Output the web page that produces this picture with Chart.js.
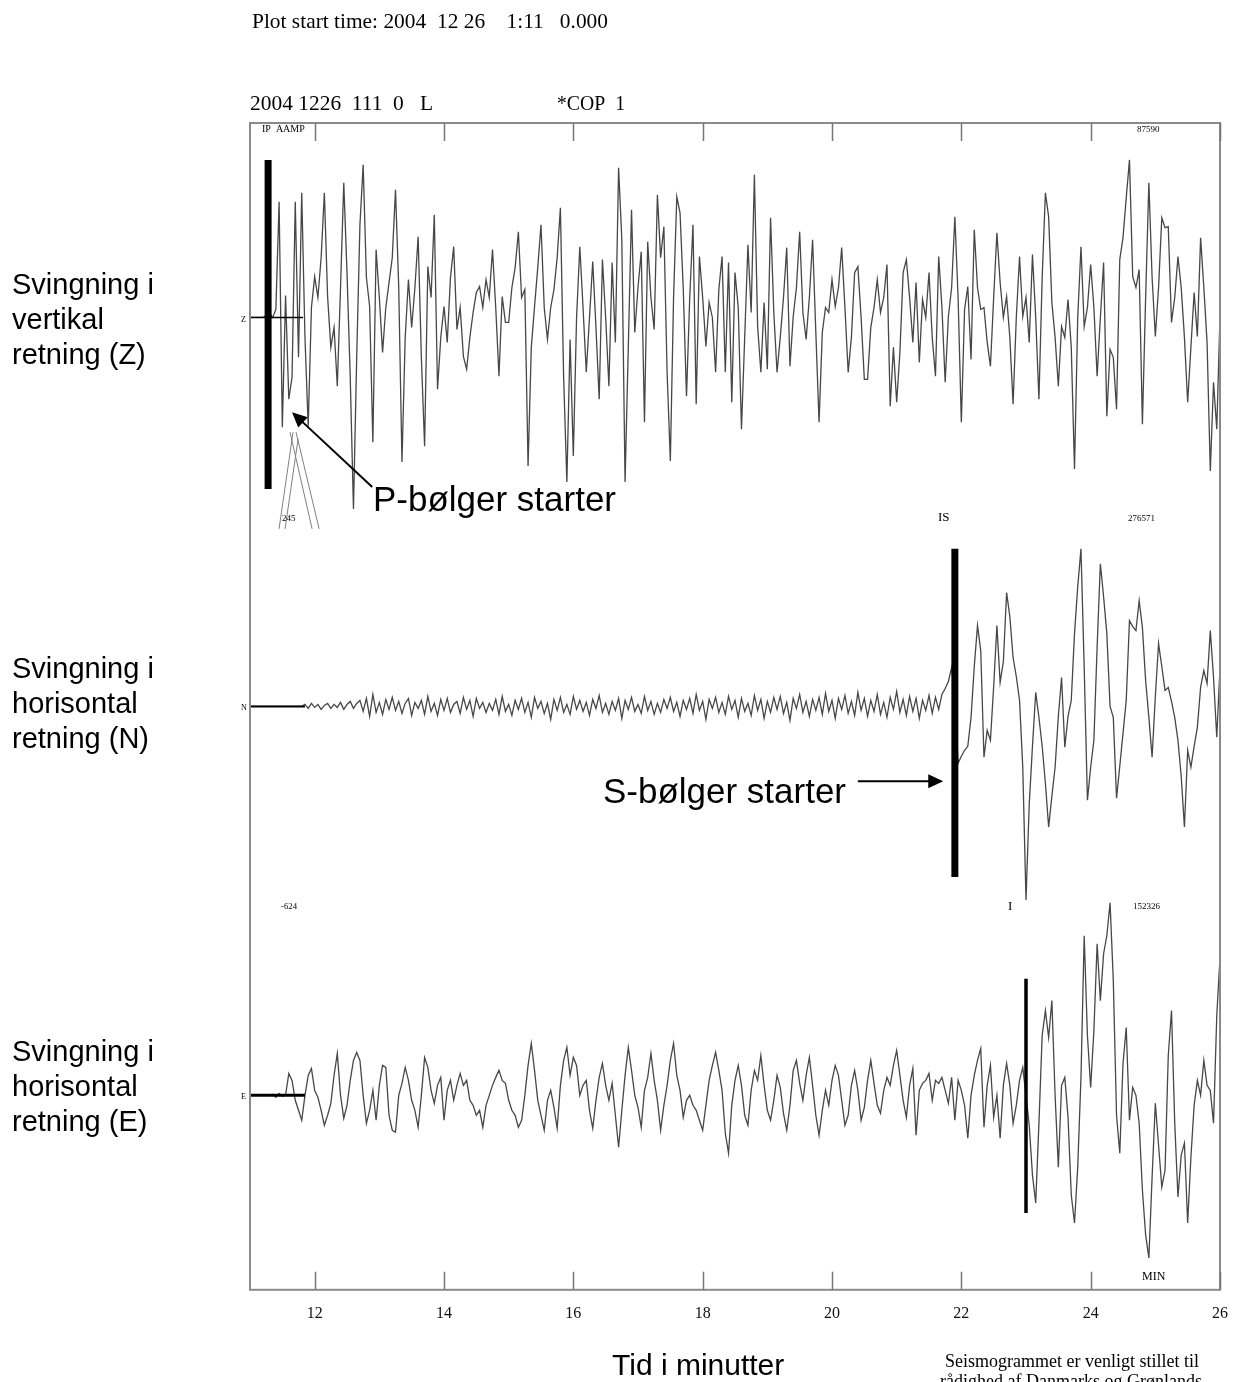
<!DOCTYPE html>
<html>
<head>
<meta charset="utf-8">
<title>Seismogram 2004-12-26</title>
<script src="https://cdn.jsdelivr.net/npm/chart.js@4.4.1/dist/chart.umd.min.js"></script>
<style>
  html, body { margin: 0; padding: 0; background: #fff; }
  canvas { display: block; }
</style>
</head>
<body>
<canvas id="seismo" width="1234" height="1382"></canvas>
<script>
// sample times in minutes after 1:00, one sample every 0.05 min
const sampleStart = 11.0;
const sampleStep = 0.05;
const tickMinutes = [12, 14, 16, 18, 20, 22, 24, 26];

// vertical component (Z)
const zAmp = [
  0, 0, 0, 0, 0, 2, 4, 0, 8, 116,
  -110, 22, -82, -60, 116, -40, 125, -20, -109, 10,
  41, 20, 60, 125, 21, -30, -10, -69, 30, 135,
  45, -60, -192, -40, 93, 153, 40, 11, -125, 68,
  20, -35, 10, 35, 60, 128, 30, -145, -20, 38,
  -10, 30, 81, -40, -129, 51, 20, 103, -72, -20,
  11, -25, 40, 71, -12, 10, -39, -52, -20, 5,
  25, 31, 10, 38, 20, 68, 10, -59, 21, -5,
  -5, 30, 50, 86, 20, 28, -149, -30, 11, 50,
  93, 10, -22, 10, 28, 60, 110, -60, -165, -22,
  -139, 0, 71, 10, -55, 0, 56, -10, -82, 58,
  0, -69, 55, -25, 150, 78, -165, -30, 108, -15,
  30, 66, -105, 76, 20, -12, 123, 60, 91, -55,
  -144, 20, 121, 105, 28, -79, 20, 93, -87, 61,
  20, -29, 15, 0, -55, 28, 61, -55, 55, -85,
  45, 10, -112, -20, 73, 5, 143, -9, -55, 15,
  -52, 100, 5, -55, -20, 20, 70, -49, 1, 30,
  86, 5, -22, 20, 78, -15, -105, -15, 10, 5,
  38, 11, 30, 70, 10, -55, -20, 45, 51, 0,
  -62, -62, -10, 10, 38, 5, 20, 53, -89, -30,
  -85, -35, 45, 58, 20, -25, 35, -45, 18, 0,
  45, -20, -59, 61, 10, -65, 1, 30, 101, 20,
  -105, 8, 31, -42, 88, 30, 8, 10, -25, -49,
  20, 85, 35, 0, 21, -20, -87, 0, 61, 1,
  20, -25, 63, 0, -82, 40, 125, 101, 15, -20,
  -69, -9, -20, 18, -30, -152, 0, 71, -9, 10,
  53, 10, -59, 0, 55, -99, -32, -40, -92, 58,
  80, 120, 158, 41, 30, 48, -107, 20, 135, 40,
  -19, 30, 100, 90, 91, -5, 20, 61, 30, -20,
  -85, -30, 25, -19, 80, 30, -25, -154, -65, -112,
  1
];

// horizontal component (N)
const nAmp = [
  0, 0, 0, 0, 0, 0, 0, 0, 0, 0,
  0, 0, 0, 0, 0, 0, 0, 2, -2, 3,
  -1, 2, -3, 1, 3, -2, 2, -1, 4, -3,
  2, 5, -2, 3, 6, -5, 8, -10, 12, -6,
  4, -8, 7, -3, 9, -4, 5, -7, 3, 8,
  -9, 4, -2, 6, -8, 10, -5, 3, -9, 7,
  -4, 8, -6, 2, 5, -7, 9, -3, 6, -10,
  8, -2, 4, -6, 3, -4, 7, -8, 10, -5,
  2, -9, 6, -3, 8, -6, 4, -11, 9, -2,
  5, -7, 3, -13, 7, -4, 9, -6, 2, -8,
  10, -3, 6, -5, 4, -9, 7, -2, 11, -6,
  3, -8, 5, -4, 8, -12, 6, -3, 9, -5,
  2, -7, 10, -4, 5, -8, 3, -6, 7, -2,
  9, -5, 4, -10, 6, -3, 8, -7, 12, -4,
  5, -13, 7, -2, 9, -6, 4, -8, 10, -3,
  6, -11, 8, -5, 3, -9, 11, -4, 7, -12,
  5, -6, 9, -3, 10, -7, 4, -14, 8, -2,
  12, -6, 5, -10, 7, -4, 9, -8, 13, -5,
  6, -12, 8, -3, 11, -7, 5, -9, 14, -4,
  8, -10, 6, -5, 12, -8, 4, -11, 9, -3,
  15, -6, 7, -9, 10, -5, 8, -12, 6, -4,
  11, -7, 9, -3, 12, 18, 25, 39, 10, -57,
  -50, -44, -40, -11, 40, 81, 56, -51, -24, -34,
  20, 81, 24, 45, 114, 90, 49, 30, 6, -61,
  -194, -98, -40, 14, -11, -40, -77, -121, -90, -61,
  -10, 29, -41, -10, 6, 73, 120, 158, 39, -94,
  -61, -34, 60, 143, 110, 73, 0, -11, -92, -60,
  -27, 6, 86, 80, 76, 106, 79, 26, -11, -51,
  10, 63, 40, 16, 19, 5, -11, -34, -70, -121,
  -44, -61, -40, -21, 19, 36, 23, 76, 29, -31,
  39
];

// horizontal component (E)
const eAmp = [
  0, 0, 0, 0, 0, 0, 0, 1, -2, 2,
  -1, 0, 22, 15, -5, -15, -25, 0, 20, 27,
  5, -2, -15, -30, -20, -8, 20, 42, 0, -23,
  -10, 15, 35, 43, 35, 0, -28, -15, 5, -25,
  10, 30, 28, -20, -35, -37, 0, 12, 28, 15,
  -5, -15, -32, 0, 38, 28, 5, -8, 10, 18,
  -25, 5, 15, -5, 10, 22, 10, 15, -5, -10,
  -20, -15, -32, -10, 0, 10, 18, 25, 15, 12,
  -5, -15, -20, -32, -25, 0, 30, 52, 25, -5,
  -20, -35, -5, 5, -12, -33, 10, 35, 48, 20,
  38, 30, 0, 10, 15, -15, -33, -5, 18, 32,
  10, -5, 12, -20, -52, -15, 20, 48, 25, 0,
  -12, -32, 5, 18, 42, 15, -5, -35, -10, 10,
  35, 52, 20, 5, -22, -5, 0, -10, -15, -25,
  -35, -10, 15, 30, 43, 25, 5, -38, -58, -10,
  15, 30, 10, -20, -30, 5, 25, 15, 40, 10,
  -15, -25, -5, 20, 8, -18, -35, -10, 25, 35,
  12, -5, 20, 38, 10, -20, -40, -15, 5, -10,
  15, 30, 20, -5, -30, -20, 10, 25, 5, -25,
  -12, 15, 35, 12, -10, -18, 5, 18, 10, 30,
  45, 20, -5, -22, 10, 27, -40, 5, 12, 15,
  22, -5, 15, 12, 18, 5, -8, 18, -25, 15,
  5, -10, -43, 0, 20, 35, 47, -32, 10, 30,
  -22, 0, -43, 10, 32, 10, -28, -10, 15, 28,
  0, -30, -80, -108, -28, 60, 85, 58, 95, 0,
  -72, 10, 18, -22, -100, -128, -72, 18, 160, 60,
  8, 65, 152, 95, 142, 160, 193, 115, -20, -58,
  32, 68, -25, 8, 0, -28, -95, -140, -163, -82,
  -8, -50, -92, -75, 40, 85, -28, -102, -60, -48,
  -128, -62, -10, 15, 0, 35, 10, 5, -28, 80,
  138
];

// phase picks (Z: P, N: S, E: I) and the flat pre-event part of each trace
const pickTimes = [11.28, 21.90, 23.00];
const pickTop = [158, 158, 117];
const pickBottom = [-172, -171, -118];
const preEventEnd = [11.82, 11.85, 11.85];

const axisIds = ['yZ', 'yN', 'yE'];

function toPoints(values) {
  return values.map((v, i) => ({ x: sampleStart + i * sampleStep, y: v }));
}

const datasets = [];
[zAmp, nAmp, eAmp].forEach((amp, k) => {
  datasets.push({
    data: toPoints(amp),
    yAxisID: axisIds[k],
    borderColor: '#474747',
    borderWidth: 1.3,
    order: 3
  });
  datasets.push({
    data: [{ x: sampleStart, y: 0 }, { x: preEventEnd[k], y: 0 }],
    yAxisID: axisIds[k],
    borderColor: '#000',
    borderWidth: [1.5, 2, 3][k],
    order: 2
  });
  datasets.push({
    data: [{ x: pickTimes[k], y: pickTop[k] }, { x: pickTimes[k], y: pickBottom[k] }],
    yAxisID: axisIds[k],
    borderColor: '#000',
    borderWidth: [7, 7, 3.5][k],
    borderCapStyle: 'butt',
    order: 1
  });
});

const notes = [
  { text: 'Plot start time: 2004  12 26    1:11   0.000', x: 252, y: 28, font: '22px "Liberation Serif"', w: 356 },
  { text: '2004 1226  111  0   L', x: 250, y: 110, font: '22px "Liberation Serif"', w: 183 },
  { text: '*COP  1', x: 557, y: 110, font: '22px "Liberation Serif"', w: 68 },
  { text: 'IP  AAMP', x: 262, y: 132, font: '10px "Liberation Serif"', w: 53 },
  { text: '87590', x: 1137, y: 132, font: '9px "Liberation Serif"', w: 24 },
  { text: '245', x: 282, y: 521, font: '9px "Liberation Serif"', w: 14 },
  { text: 'IS', x: 938, y: 521, font: '13px "Liberation Serif"', w: 13 },
  { text: '276571', x: 1128, y: 521, font: '9px "Liberation Serif"', w: 35 },
  { text: '-624', x: 281, y: 909, font: '9px "Liberation Serif"', w: 16 },
  { text: 'I', x: 1008, y: 910, font: '13px "Liberation Serif"', w: 6 },
  { text: '152326', x: 1133, y: 909, font: '9px "Liberation Serif"', w: 30 },
  { text: 'MIN', x: 1142, y: 1280, font: '12px "Liberation Serif"', w: 24 },
  { text: 'Z', x: 241, y: 322, font: '8px "Liberation Serif"', w: 6 },
  { text: 'N', x: 241, y: 710, font: '8px "Liberation Serif"', w: 6 },
  { text: 'E', x: 241, y: 1099, font: '8px "Liberation Serif"', w: 6 },
  { text: 'Svingning i', x: 12, y: 294, font: '29px "Liberation Sans"', w: 150 },
  { text: 'vertikal', x: 12, y: 329, font: '29px "Liberation Sans"', w: 150 },
  { text: 'retning (Z)', x: 12, y: 364, font: '29px "Liberation Sans"', w: 150 },
  { text: 'Svingning i', x: 12, y: 678, font: '29px "Liberation Sans"', w: 150 },
  { text: 'horisontal', x: 12, y: 713, font: '29px "Liberation Sans"', w: 150 },
  { text: 'retning (N)', x: 12, y: 748, font: '29px "Liberation Sans"', w: 150 },
  { text: 'Svingning i', x: 12, y: 1061, font: '29px "Liberation Sans"', w: 150 },
  { text: 'horisontal', x: 12, y: 1096, font: '29px "Liberation Sans"', w: 150 },
  { text: 'retning (E)', x: 12, y: 1131, font: '29px "Liberation Sans"', w: 150 },
  { text: 'P-bølger starter', x: 373, y: 511, font: '35px "Liberation Sans"', w: 243 },
  { text: 'S-bølger starter', x: 603, y: 803, font: '35px "Liberation Sans"', w: 243 },
  { text: 'Tid i minutter', x: 612, y: 1375, font: '30px "Liberation Sans"', w: 176 },
  { text: 'Seismogrammet er venligt stillet til', x: 945, y: 1367, font: '18px "Liberation Serif"', w: 277 },
  { text: 'rådighed af Danmarks og Grønlands', x: 940, y: 1387, font: '18px "Liberation Serif"', w: 290 }
];

// arrows and pick helper lines, in (minutes, amplitude) on a trace axis
const arrows = [
  { axis: 'yZ', from: [12.89, -170], to: [11.65, -95] },
  { axis: 'yN', from: [20.40, -75], to: [21.72, -75] }
];
const helperLines = [
  { from: [11.666, -115], to: [11.449, -212] },
  { from: [11.743, -122], to: [11.542, -212] },
  { from: [11.619, -115], to: [11.960, -212] },
  { from: [11.712, -115], to: [12.069, -212] }
];

const seismoDecor = {
  id: 'seismoDecor',
  afterDraw(chart) {
    const ctx = chart.ctx;
    const area = chart.chartArea;
    const x = chart.scales.x;
    ctx.save();

    // frame with inward ticks
    ctx.strokeStyle = '#8a8a8a';
    ctx.lineWidth = 2;
    ctx.strokeRect(area.left, area.top, area.right - area.left, area.bottom - area.top);
    ctx.lineWidth = 1.5;
    ctx.strokeStyle = '#777';
    tickMinutes.forEach(t => {
      const px = Math.round(x.getPixelForValue(t)) + 0.5;
      ctx.beginPath();
      ctx.moveTo(px, area.bottom);
      ctx.lineTo(px, area.bottom - 18);
      ctx.moveTo(px, area.top);
      ctx.lineTo(px, area.top + 18);
      ctx.stroke();
    });

    // thin helper lines under the P pick
    const yZ = chart.scales.yZ;
    ctx.strokeStyle = '#808080';
    ctx.lineWidth = 1;
    helperLines.forEach(l => {
      ctx.beginPath();
      ctx.moveTo(x.getPixelForValue(l.from[0]), yZ.getPixelForValue(l.from[1]));
      ctx.lineTo(x.getPixelForValue(l.to[0]), yZ.getPixelForValue(l.to[1]));
      ctx.stroke();
    });

    // arrows
    ctx.strokeStyle = '#000';
    ctx.fillStyle = '#000';
    ctx.lineWidth = 2;
    arrows.forEach(a => {
      const ys = chart.scales[a.axis];
      const x1 = x.getPixelForValue(a.from[0]), y1 = ys.getPixelForValue(a.from[1]);
      const x2 = x.getPixelForValue(a.to[0]), y2 = ys.getPixelForValue(a.to[1]);
      const ang = Math.atan2(y2 - y1, x2 - x1);
      const head = 15;
      ctx.beginPath();
      ctx.moveTo(x1, y1);
      ctx.lineTo(x2 - Math.cos(ang) * head * 0.8, y2 - Math.sin(ang) * head * 0.8);
      ctx.stroke();
      ctx.beginPath();
      ctx.moveTo(x2, y2);
      ctx.lineTo(x2 - head * Math.cos(ang) + 7 * Math.sin(ang), y2 - head * Math.sin(ang) - 7 * Math.cos(ang));
      ctx.lineTo(x2 - head * Math.cos(ang) - 7 * Math.sin(ang), y2 - head * Math.sin(ang) + 7 * Math.cos(ang));
      ctx.closePath();
      ctx.fill();
    });

    // texts
    ctx.fillStyle = '#000';
    ctx.textBaseline = 'alphabetic';
    ctx.textAlign = 'left';
    notes.forEach(n => {
      ctx.font = n.font;
      ctx.fillText(n.text, n.x, n.y, n.w);
    });
    ctx.restore();
  }
};

const traceAxis = {
  type: 'linear',
  position: 'left',
  stack: 'traces',
  stackWeight: 1,
  min: -195,
  max: 195,
  display: false
};

new Chart(document.getElementById('seismo'), {
  type: 'line',
  data: { datasets: datasets },
  options: {
    responsive: false,
    animation: false,
    events: [],
    layout: { padding: { left: 250, right: 14, top: 123, bottom: 59 } },
    elements: {
      point: { radius: 0 },
      line: { tension: 0, fill: false }
    },
    plugins: {
      legend: { display: false },
      tooltip: { enabled: false },
      title: { display: false }
    },
    scales: {
      x: {
        type: 'linear',
        min: 11,
        max: 26,
        // tick marks are drawn inward by the plugin; the hidden tick length only spaces the labels
        grid: { display: false, drawTicks: true, tickLength: 14 },
        border: { display: false },
        ticks: {
          stepSize: 2,
          includeBounds: false,
          padding: 0,
          color: '#111',
          font: { family: '"Liberation Serif"', size: 16 }
        }
      },
      yE: Object.assign({}, traceAxis),
      yN: Object.assign({}, traceAxis),
      yZ: Object.assign({}, traceAxis)
    }
  },
  plugins: [seismoDecor]
});
</script>
</body>
</html>
